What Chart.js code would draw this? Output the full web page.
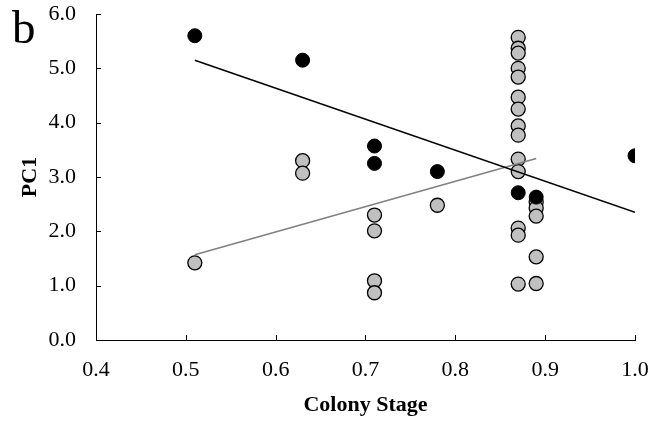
<!DOCTYPE html>
<html>
<head>
<meta charset="utf-8">
<script src="https://cdn.jsdelivr.net/npm/chart.js@4"></script>
<style>
  body { margin: 0; background: #fff; }
</style>
</head>
<body>
<canvas id="myChart" width="666" height="422"></canvas>
<script>
// colony stage vs PC1, black = one group, gray = the other
var blackX = [0.51, 0.63, 0.71, 0.71, 0.78, 0.87, 0.89, 1.0];
var blackY = [5.60, 5.15, 3.57, 3.25, 3.10, 2.71, 2.63, 3.39];

var grayX = [0.51, 0.63, 0.63, 0.71, 0.71, 0.71, 0.71, 0.78,
             0.87, 0.87, 0.87, 0.87, 0.87, 0.87, 0.87, 0.87, 0.87, 0.87, 0.87, 0.87, 0.87, 0.87,
             0.89, 0.89, 0.89, 0.89, 0.89];
var grayY = [1.42, 3.30, 3.07, 2.30, 2.01, 1.09, 0.87, 2.48,
             5.57, 5.37, 5.28, 5.00, 4.84, 4.47, 4.25, 3.94, 3.77, 3.33, 3.10, 2.06, 1.93, 1.03,
             2.54, 2.43, 2.28, 1.53, 1.04];

// trend lines (end points)
var blackLineX = [0.51, 1.0];
var blackLineY = [5.15, 2.35];
var grayLineX = [0.51, 0.89];
var grayLineY = [1.57, 3.34];

var xTicks = [0.4, 0.5, 0.6, 0.7, 0.8, 0.9, 1.0];
var yTicks = [0, 1, 2, 3, 4, 5, 6];

function toPoints(xs, ys) {
    return xs.map(function (x, i) { return { x: x, y: ys[i] }; });
}

Chart.defaults.font.family = "'Liberation Serif', 'Times New Roman', serif";
Chart.defaults.color = '#000';

// short tick marks pointing into the plot + the panel letter
var extras = {
    id: 'extras',
    afterDraw: function (chart) {
        var ctx = chart.ctx;
        var xs = chart.scales.x, ys = chart.scales.y;
        var area = chart.chartArea;
        ctx.save();
        ctx.strokeStyle = '#000';
        ctx.lineWidth = 1;
        ctx.beginPath();
        xTicks.forEach(function (v) {
            var px = Math.round(xs.getPixelForValue(v)) + 0.5;
            ctx.moveTo(px, area.bottom);
            ctx.lineTo(px, area.bottom - 5);
        });
        yTicks.forEach(function (v) {
            var py = Math.round(ys.getPixelForValue(v)) + 0.5;
            ctx.moveTo(area.left, py);
            ctx.lineTo(area.left + 5, py);
        });
        ctx.stroke();
        ctx.fillStyle = '#000';
        ctx.font = "47px 'Liberation Serif'";
        ctx.textBaseline = 'alphabetic';
        ctx.fillText('b', 12, 43);
        ctx.restore();
    }
};

var ctx = document.getElementById('myChart').getContext('2d');

var myChart = new Chart(ctx, {
    type: 'scatter',
    data: {
        datasets: [
            {
                type: 'line',
                data: toPoints(blackLineX, blackLineY),
                borderColor: '#000',
                borderWidth: 1.5,
                pointRadius: 0,
                fill: false,
                order: 0
            },
            {
                type: 'line',
                data: toPoints(grayLineX, grayLineY),
                borderColor: '#808080',
                borderWidth: 1.5,
                pointRadius: 0,
                fill: false,
                order: 0
            },
            {
                data: toPoints(blackX, blackY),
                backgroundColor: '#000',
                borderColor: '#000',
                borderWidth: 1,
                pointRadius: 7,
                order: 1
            },
            {
                data: toPoints(grayX, grayY),
                backgroundColor: '#c0c0c0',
                borderColor: '#000',
                borderWidth: 1.3,
                pointRadius: 7,
                order: 2
            }
        ]
    },
    options: {
        responsive: false,
        animation: false,
        layout: {
            padding: { left: 0, top: 14, right: 31, bottom: 0 }
        },
        plugins: {
            legend: { display: false },
            tooltip: { enabled: false }
        },
        scales: {
            x: {
                type: 'linear',
                min: 0.4,
                max: 1.0,
                afterBuildTicks: function (scale) {
                    scale.ticks = xTicks.map(function (v) { return { value: v }; });
                },
                ticks: {
                    padding: 17,
                    font: { size: 22 },
                    callback: function (v) { return Number(v).toFixed(1); }
                },
                grid: { display: false, drawTicks: false },
                border: { display: true, color: '#000', width: 1 },
                title: {
                    display: true,
                    text: 'Colony Stage',
                    font: { size: 22, weight: 'bold' },
                    padding: { top: 0, bottom: 3.5 }
                },
                afterFit: function (scale) {
                    scale.height = 82;
                    scale.paddingLeft = 0;
                    scale.paddingRight = 0;
                }
            },
            y: {
                min: 0,
                max: 6,
                afterBuildTicks: function (scale) {
                    scale.ticks = yTicks.map(function (v) { return { value: v }; });
                },
                ticks: {
                    padding: 20,
                    font: { size: 22 },
                    callback: function (v) { return Number(v).toFixed(1); }
                },
                grid: { display: false, drawTicks: false },
                border: { display: true, color: '#000', width: 1 },
                title: {
                    display: true,
                    text: 'PC1',
                    font: { size: 22, weight: 'bold' },
                    padding: { top: 17, bottom: 0 }
                },
                afterFit: function (scale) {
                    scale.width = 96;
                    scale.paddingTop = 0;
                    scale.paddingBottom = 0;
                }
            }
        }
    },
    plugins: [extras]
});
</script>
</body>
</html>
